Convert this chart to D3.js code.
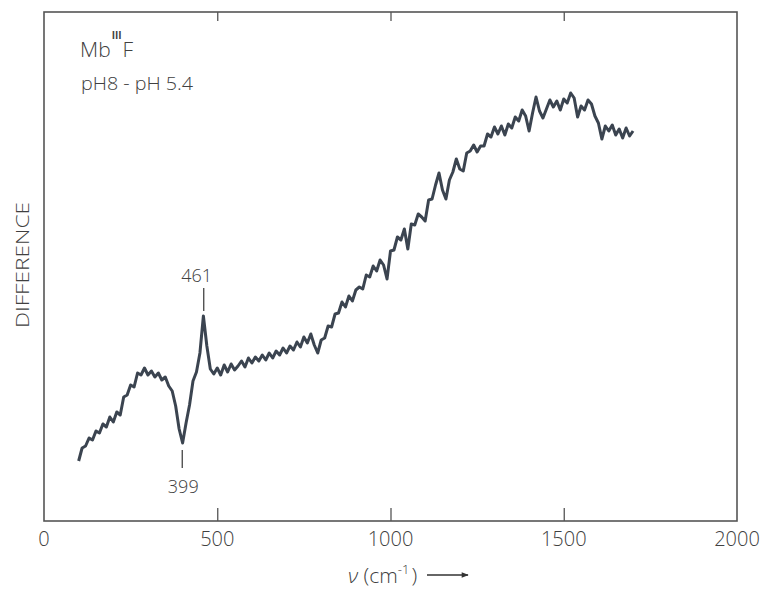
<!DOCTYPE html>
<html>
<head>
<meta charset="utf-8">
<script src="https://cdn.jsdelivr.net/npm/d3@7"></script>
<style>
  body { margin: 0; background: #fff; }
  text { font-family: "Open Sans", "DejaVu Sans", sans-serif; fill: #404040; font-weight: 300; }
</style>
</head>
<body>
<svg id="chart"></svg>
<script>
const width = 767;
const height = 589;

// sampling of the spectrum (cm-1)
const nuStart = 100;
const nuStep = 10;

// difference signal, arbitrary units (one value per 10 cm-1, 100..1700)
const diff = [
  60, 73, 75, 83, 81, 90, 88, 97, 94, 104,
  99, 109, 106, 124, 126, 136, 134, 148, 146, 153,
  146, 150, 144, 148, 141, 144, 135, 130, 115, 92,
  78, 98, 116, 140, 149, 168, 205, 175, 152, 147,
  153, 146, 156, 149, 157, 151, 155, 160, 154, 163,
  158, 164, 160, 166, 161, 168, 163, 170, 166, 173,
  168, 175, 171, 179, 174, 184, 178, 187, 176, 168,
  181, 183, 195, 194, 207, 208, 219, 214, 225, 220,
  231, 234, 232, 246, 244, 255, 250, 261, 256, 242,
  270, 271, 284, 281, 292, 272, 297, 296, 307, 304,
  300, 321, 322, 336, 348, 331, 322, 341, 349, 362,
  352, 350, 368, 370, 376, 369, 375, 375, 387, 384,
  394, 387, 395, 386, 397, 393, 404, 400, 411, 405,
  390, 408, 424, 410, 403, 412, 421, 414, 420, 411,
  422, 418, 428, 423, 404, 415, 411, 421, 417, 405,
  398, 382, 395, 390, 396, 386, 392, 383, 393, 385,
  390
];

const xTicks = [0, 500, 1000, 1500, 2000];
const peaks = [
  {nu: 461, label: "461", side: "up"},
  {nu: 399, label: "399", side: "down"}
];

const data = diff.map((v, i) => ({nu: nuStart + i * nuStep, v: v}));

const svg = d3.select("#chart")
    .attr("width", width)
    .attr("height", height);

const x = d3.scaleLinear().domain([0, 2000]).range([44, 737]);
const y = d3.scaleLinear().domain([0, 509]).range([521, 12]);

// frame
svg.append("rect")
    .attr("x", x(0))
    .attr("y", y(509))
    .attr("width", x(2000) - x(0))
    .attr("height", y(0) - y(509))
    .attr("fill", "none")
    .attr("stroke", "#555")
    .attr("stroke-width", 1.6);

// inward ticks on bottom and top
svg.append("g")
    .attr("transform", `translate(0,${y(0)})`)
    .call(d3.axisBottom(x).tickValues(xTicks.slice(1, -1)).tickSize(-13).tickFormat(""))
    .call(g => g.select(".domain").remove())
    .call(g => g.selectAll("line").attr("stroke", "#555").attr("stroke-width", 1.3));

svg.append("g")
    .attr("transform", `translate(0,${y(509)})`)
    .call(d3.axisTop(x).tickValues(xTicks.slice(1, -1)).tickSize(-9).tickFormat(""))
    .call(g => g.select(".domain").remove())
    .call(g => g.selectAll("line").attr("stroke", "#555").attr("stroke-width", 1.3));

// tick labels
svg.append("g")
    .selectAll("text")
    .data(xTicks)
    .enter()
    .append("text")
    .attr("x", d => x(d))
    .attr("y", 546)
    .attr("text-anchor", "middle")
    .attr("font-size", "20px")
    .text(d => d);

// spectrum trace
const line = d3.line()
    .x(d => x(d.nu))
    .y(d => y(d.v));

svg.append("path")
    .datum(data)
    .attr("fill", "none")
    .attr("stroke", "#3b4450")
    .attr("stroke-width", 3)
    .attr("stroke-linejoin", "round")
    .attr("d", line);

// peak markers
peaks.forEach(p => {
    const up = p.side === "up";
    svg.append("line")
        .attr("x1", x(p.nu)).attr("x2", x(p.nu))
        .attr("y1", up ? 288 : 450)
        .attr("y2", up ? 311 : 468)
        .attr("stroke", "#444")
        .attr("stroke-width", 1.3);
    svg.append("text")
        .attr("x", up ? x(p.nu) - 7 : x(p.nu) + 1)
        .attr("y", up ? 282 : 493)
        .attr("text-anchor", "middle")
        .attr("font-size", "18px")
        .text(p.label);
});

// sample annotation
const mb = svg.append("text")
    .attr("x", 80)
    .attr("y", 57)
    .attr("font-size", "21px");
mb.append("tspan").text("Mb");
mb.append("tspan")
    .attr("dy", -18)
    .attr("dx", 1)
    .attr("font-size", "10px")
    .attr("font-weight", 700)
    .text("III");
mb.append("tspan")
    .attr("dy", 18)
    .attr("dx", 1)
    .text("F");

svg.append("text")
    .attr("x", 81)
    .attr("y", 90)
    .attr("font-size", "19px")
    .attr("textLength", 112)
    .attr("lengthAdjust", "spacingAndGlyphs")
    .text("pH8 - pH 5.4");

// y label
svg.append("text")
    .attr("transform", "translate(29,265) rotate(-90)")
    .attr("text-anchor", "middle")
    .attr("font-size", "18px")
    .attr("textLength", 126)
    .attr("lengthAdjust", "spacingAndGlyphs")
    .text("DIFFERENCE");

// x label with arrow
const xl = svg.append("text")
    .attr("x", 348)
    .attr("y", 583)
    .attr("font-size", "21px");
xl.append("tspan").attr("font-style", "italic").text("ν");
xl.append("tspan").text(" (cm");
xl.append("tspan").attr("dy", -9).attr("font-size", "13px").text("-1");
xl.append("tspan").attr("dy", 9).attr("dx", 2).text(")");

svg.append("defs").append("marker")
    .attr("id", "arrow")
    .attr("viewBox", "0 0 10 10")
    .attr("refX", 9)
    .attr("refY", 5)
    .attr("markerWidth", 7)
    .attr("markerHeight", 5)
    .attr("orient", "auto")
    .append("path")
    .attr("d", "M0,1L10,5L0,9Z")
    .attr("fill", "#333");

svg.append("line")
    .attr("x1", 427).attr("x2", 468)
    .attr("y1", 575).attr("y2", 575)
    .attr("stroke", "#333")
    .attr("stroke-width", 1.4)
    .attr("marker-end", "url(#arrow)");
</script>
</body>
</html>
